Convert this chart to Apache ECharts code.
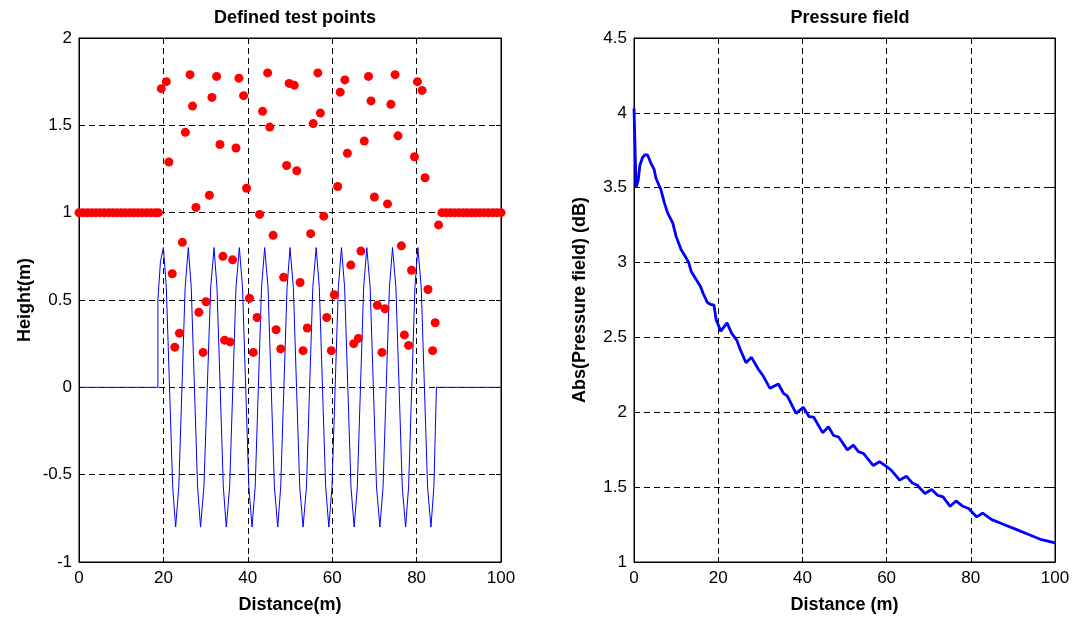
<!DOCTYPE html>
<html>
<head>
<meta charset="utf-8">
<script src="https://cdn.jsdelivr.net/npm/echarts@6/dist/echarts.min.js"></script>
<style>html,body{margin:0;padding:0;background:#fff}#c{width:1076px;height:620px}</style>
</head>
<body>
<div id="c"></div>
<script>
// ---- Left plot: defined test points ----
var flatLeftX = [0,1,2,3,4,5,6,7,8,9,10,11,12,13,14,15,16,17,18,18.8];
var flatRightX = [86,87,88,89,90,91,92,93,94,95,96,97,98,99,100];
var flatY = 1;
var testX = [19.5,20.7,26.3,32.6,37.9,44.7,49.8,51.0,56.6,26.9,31.5,39.0,43.5,25.2,45.2,55.5,57.2,33.4,37.2,21.3,49.2,51.6,39.7,30.9,27.7,42.8,46.0,54.9,24.5,34.1,36.4,22.1,48.5,52.4,40.4,30.1,28.4,42.2,23.8,46.7,54.1,34.5,35.8,22.7,29.4,41.3,47.8,53.1,
  63.0,68.6,74.9,80.2,81.3,61.9,69.2,73.9,75.6,67.6,63.6,79.5,82.0,61.3,70.0,73.1,58.0,85.2,76.4,66.8,64.4,78.8,82.7,60.5,70.7,72.5,58.7,84.4,66.2,65.1,77.1,78.1,59.8,71.8,83.8];
var testY = [1.71,1.75,1.79,1.78,1.77,1.80,1.74,1.73,1.80,1.61,1.66,1.67,1.58,1.46,1.49,1.51,1.57,1.39,1.37,1.29,1.27,1.24,1.14,1.10,1.03,0.99,0.87,0.88,0.83,0.75,0.73,0.65,0.63,0.60,0.51,0.49,0.43,0.40,0.31,0.33,0.34,0.27,0.26,0.23,0.20,0.20,0.22,0.21,
  1.76,1.78,1.79,1.75,1.70,1.69,1.64,1.62,1.44,1.41,1.34,1.32,1.20,1.15,1.09,1.05,0.98,0.93,0.81,0.78,0.70,0.67,0.56,0.53,0.47,0.45,0.40,0.37,0.28,0.25,0.30,0.24,0.21,0.20,0.21];
var waveX = [0,18.7,18.7,19.3,20.0,
  20.7,21.45,22.2,22.9, 23.65,24.4,25.15,25.9, 26.6,27.35,28.1,28.8, 29.6,30.4,31.2,32.0,
  32.7,33.45,34.2,34.9, 35.7,36.45,37.2,38.0, 38.75,39.5,40.25,41.0, 41.75,42.5,43.25,44.0,
  44.8,45.55,46.3,47.1, 47.8,48.55,49.3,50.0, 50.8,51.55,52.3,53.1, 53.9,54.65,55.4,56.2,
  56.95,57.7,58.45,59.2, 59.95,60.7,61.45,62.2, 62.95,63.7,64.45,65.2, 65.95,66.7,67.45,68.2,
  69.0,69.75,70.5,71.3, 72.05,72.8,73.55,74.3, 75.1,75.85,76.6,77.4, 78.1,78.85,79.6,80.3,
  81.1,81.85,82.6,83.4, 84.1,84.7,100];
var waveY = [0,0,0.5,0.72,0.8,
  0.57,0,-0.57,-0.8, -0.57,0,0.57,0.8, 0.57,0,-0.57,-0.8, -0.57,0,0.57,0.8,
  0.57,0,-0.57,-0.8, -0.57,0,0.57,0.8, 0.57,0,-0.57,-0.8, -0.57,0,0.57,0.8,
  0.57,0,-0.57,-0.8, -0.57,0,0.57,0.8, 0.57,0,-0.57,-0.8, -0.57,0,0.57,0.8,
  0.57,0,-0.57,-0.8, -0.57,0,0.57,0.8, 0.57,0,-0.57,-0.8, -0.57,0,0.57,0.8,
  0.57,0,-0.57,-0.8, -0.57,0,0.57,0.8, 0.57,0,-0.57,-0.8, -0.57,0,0.57,0.8,
  0.57,0,-0.57,-0.8, -0.57,0,0];
// ---- Right plot: pressure field ----
var pressX = [0,0.5,1.0,1.4,2.0,2.6,3.2,4.0,4.8,5.2,6.4,7.2,8.0,9.2,10.0,11.2,12.4,13.0,13.6,14.8,15.8,16.4,17.4,18.2,19.0,19.5,20.6,22.1,23.2,24.4,25.3,26.6,27.9,29.5,30.7,32.3,34.3,35.5,36.4,38.5,40.2,41.6,42.7,44.8,46.2,47.4,48.6,50.7,52.1,53.3,54.5,56.8,58.3,60.1,61.1,63.1,64.7,66.1,67.3,69.1,70.7,72.1,73.4,75.1,76.5,78.1,79.5,81.4,82.8,85.0,87.7,90.9,93.6,96.8,100];
var pressY = [4.03,3.50,3.55,3.65,3.70,3.72,3.72,3.665,3.62,3.565,3.486,3.40,3.33,3.265,3.175,3.085,3.03,3.0,2.94,2.885,2.84,2.795,2.735,2.72,2.715,2.62,2.542,2.597,2.527,2.482,2.415,2.331,2.367,2.289,2.242,2.16,2.189,2.127,2.109,1.993,2.033,1.971,1.967,1.864,1.904,1.845,1.835,1.749,1.78,1.737,1.725,1.645,1.67,1.635,1.614,1.547,1.573,1.528,1.513,1.458,1.484,1.446,1.435,1.372,1.408,1.372,1.357,1.301,1.327,1.283,1.252,1.216,1.185,1.149,1.128];
var xTicks = [0,20,40,60,80,100];
var titles = ['Defined test points','Pressure field'];
var xNames = ['Distance(m)','Distance (m)'];
var yNames = ['Height(m)','Abs(Pressure field) (dB)'];

function zip(xs, ys){ var o=[]; for(var i=0;i<xs.length;i++) o.push([xs[i], Array.isArray(ys)?ys[i]:ys]); return o; }

var FONT = '"Liberation Sans", Arial, Helvetica, sans-serif';
var grids = [
  {left:79, top:38, width:422, height:524},
  {left:634, top:38, width:421, height:524}
];
grids.forEach(function(g){ g.show=true; g.borderColor='#000'; g.borderWidth=1; g.backgroundColor='#fff'; });

function mainX(i){
  return {gridIndex:i, type:'value', min:0, max:100, interval:20, position:'bottom',
    axisLine:{show:true, onZero:false, lineStyle:{color:'#000', width:1}},
    axisTick:{show:true, inside:true, length:5, lineStyle:{color:'#000'}},
    axisLabel:{color:'#000', fontSize:17, fontFamily:FONT, margin:8},
    splitLine:{show:true, lineStyle:{color:'#000', width:1, type:[6,4]}},
    name:xNames[i], nameLocation:'middle', nameGap:34,
    nameTextStyle:{color:'#000', fontWeight:'bold', fontSize:18, fontFamily:FONT}};
}
function topX(i){
  return {gridIndex:i, type:'value', min:0, max:100, interval:20, position:'top',
    axisLine:{show:true, onZero:false, lineStyle:{color:'#000'}},
    axisTick:{show:true, inside:true, length:5, lineStyle:{color:'#000'}},
    axisLabel:{show:false}, splitLine:{show:false}};
}
function mainY(i, mn, mx, iv){
  return {gridIndex:i, type:'value', min:mn, max:mx, interval:iv, position:'left',
    axisLine:{show:true, onZero:false, lineStyle:{color:'#000', width:1}},
    axisTick:{show:true, inside:true, length:5, lineStyle:{color:'#000'}},
    axisLabel:{color:'#000', fontSize:17, fontFamily:FONT, margin:7},
    splitLine:{show:true, lineStyle:{color:'#000', width:1, type:[6,4]}},
    name:yNames[i], nameLocation:'middle', nameGap:45, nameRotate:90,
    nameTextStyle:{color:'#000', fontWeight:'bold', fontSize:18, fontFamily:FONT}};
}
function rightY(i, mn, mx, iv){
  return {gridIndex:i, type:'value', min:mn, max:mx, interval:iv, position:'right',
    axisLine:{show:true, onZero:false, lineStyle:{color:'#000'}},
    axisTick:{show:true, inside:true, length:5, lineStyle:{color:'#000'}},
    axisLabel:{show:false}, splitLine:{show:false}};
}

var chart = echarts.init(document.getElementById('c'), null, {renderer:'canvas'});
chart.setOption({
  animation:false,
  backgroundColor:'#fff',
  title:[
    {text:titles[0], left:290, top:4, textAlign:'center', textStyle:{color:'#000', fontWeight:'bold', fontSize:18, fontFamily:FONT}},
    {text:titles[1], left:845, top:4, textAlign:'center', textStyle:{color:'#000', fontWeight:'bold', fontSize:18, fontFamily:FONT}}
  ],
  grid:grids,
  xAxis:[mainX(0), topX(0), mainX(1), topX(1)],
  yAxis:[mainY(0,-1,2,0.5), rightY(0,-1,2,0.5), mainY(1,1,4.5,0.5), rightY(1,1,4.5,0.5)],
  series:[
    {type:'line', xAxisIndex:0, yAxisIndex:0, data:zip(waveX, waveY), showSymbol:false, symbol:'none',
      lineStyle:{color:'#0000ff', width:1}, z:2},
    {type:'scatter', xAxisIndex:0, yAxisIndex:0, data:zip(flatLeftX, flatY).concat(zip(flatRightX, flatY)).concat(zip(testX, testY)),
      symbol:'circle', symbolSize:9, itemStyle:{color:'#ff0000', opacity:1}, z:3},
    {type:'line', xAxisIndex:2, yAxisIndex:2, data:zip(pressX, pressY), showSymbol:false, symbol:'none',
      lineStyle:{color:'#0000ff', width:2.8}, z:2}
  ]
});
</script>
</body>
</html>
